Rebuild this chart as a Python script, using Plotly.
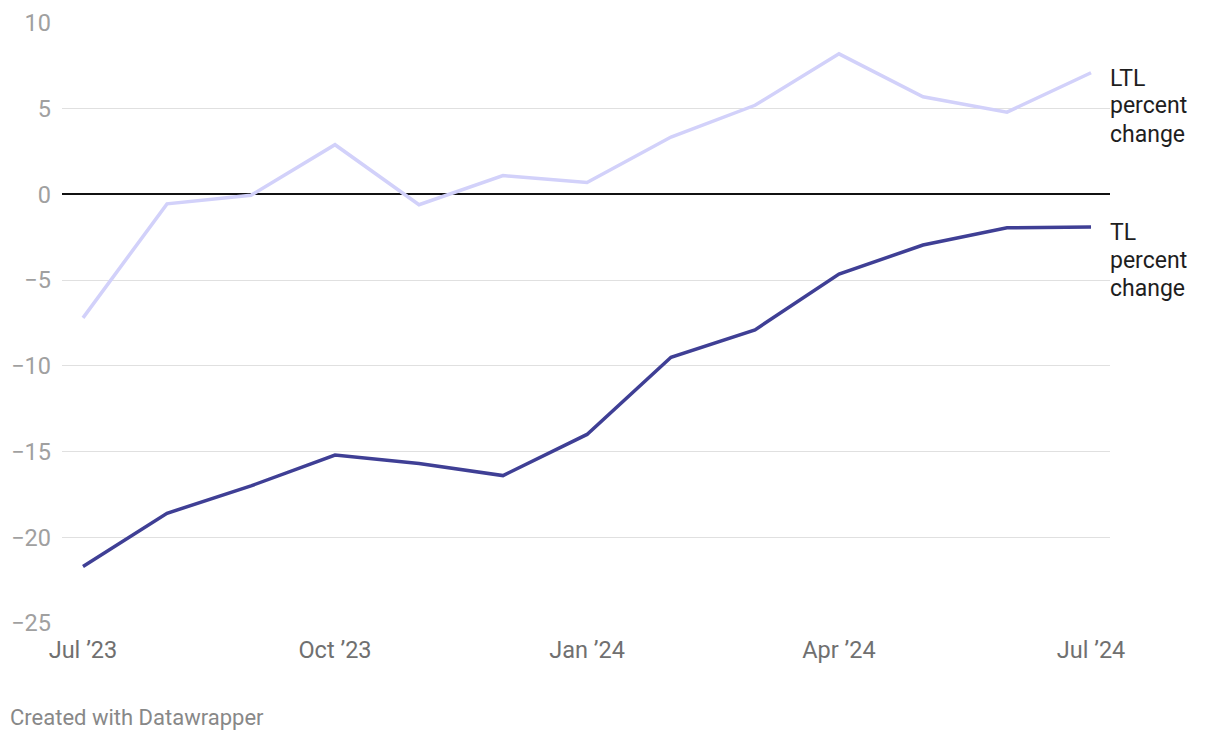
import plotly.graph_objects as go

months = ["Jul ’23", "Aug ’23", "Sep ’23", "Oct ’23", "Nov ’23", "Dec ’23", "Jan ’24",
          "Feb ’24", "Mar ’24", "Apr ’24", "May ’24", "Jun ’24", "Jul ’24"]
ltl_pct = [-7.2, -0.55, -0.05, 2.9, -0.6, 1.1, 0.7, 3.35, 5.2, 8.2, 5.7, 4.8, 7.1]
tl_pct = [-21.7, -18.6, -17.0, -15.2, -15.7, -16.4, -14.0, -9.5, -7.9, -4.65, -2.95, -1.95, -1.9]
tick_idx = [0, 3, 6, 9, 12]
tick_text = ["Jul ’23", "Oct ’23", "Jan ’24", "Apr ’24", "Jul ’24"]
y_ticks = [10, 5, 0, -5, -10, -15, -20, -25]
ltl_label = ["LTL", "percent", "change"]
tl_label = ["TL", "percent", "change"]

x = list(range(len(months)))
FONT = "Roboto"

# page body has 8px default margin; plot area target: x 62..1110, y 23..623 in window
PLOT_TOP, PLOT_H = 23, 600


def py_to_paper(py):
    return 1 - (py - PLOT_TOP) / PLOT_H


fig = go.Figure()
fig.add_trace(go.Scatter(x=x, y=ltl_pct, mode="lines", line=dict(color="#d2d1fa", width=3.5),
                         name="LTL percent change", hoverinfo="y"))
fig.add_trace(go.Scatter(x=x, y=tl_pct, mode="lines", line=dict(color="#3f3f95", width=3.5),
                         name="TL percent change", hoverinfo="y"))

annotations = []
for i, t in enumerate(ltl_label):
    annotations.append(dict(text=t, xref="paper", x=1, xanchor="left", xshift=-2,
                            yref="paper", y=py_to_paper(78 + 28 * i), yanchor="middle",
                            showarrow=False, font=dict(size=23, color="#1e1e1e")))
for i, t in enumerate(tl_label):
    annotations.append(dict(text=t, xref="paper", x=1, xanchor="left", xshift=-2,
                            yref="paper", y=py_to_paper(232 + 28 * i), yanchor="middle",
                            showarrow=False, font=dict(size=23, color="#1e1e1e")))
annotations.append(dict(text="Created with Datawrapper", xref="paper", x=0, xanchor="left",
                        xshift=-54, yref="paper", y=py_to_paper(717), yanchor="middle",
                        showarrow=False, font=dict(size=22, color="#888888")))

fig.update_layout(
    width=1220, height=740,
    margin=dict(l=54, r=118, t=15, b=125, autoexpand=False),
    paper_bgcolor="white", plot_bgcolor="white",
    showlegend=False,
    font=dict(family=FONT),
    xaxis=dict(range=[-0.25, 12.226], tickvals=tick_idx, ticktext=tick_text,
               showgrid=False, zeroline=False, showline=False, ticks="", automargin=False,
               tickfont=dict(size=23.5, color="#707070"), ticklabelstandoff=10),
    yaxis=dict(range=[-25, 10], tickvals=y_ticks, showgrid=True, gridcolor="#e0e0e0",
               gridwidth=1.2, zeroline=True, zerolinecolor="#111111", zerolinewidth=2,
               showline=False, ticks="", ticklabelstandoff=10, automargin=False,
               tickfont=dict(size=23.5, color="#a0a0a0")),
    annotations=annotations,
)

fig.write_html("out.html")
